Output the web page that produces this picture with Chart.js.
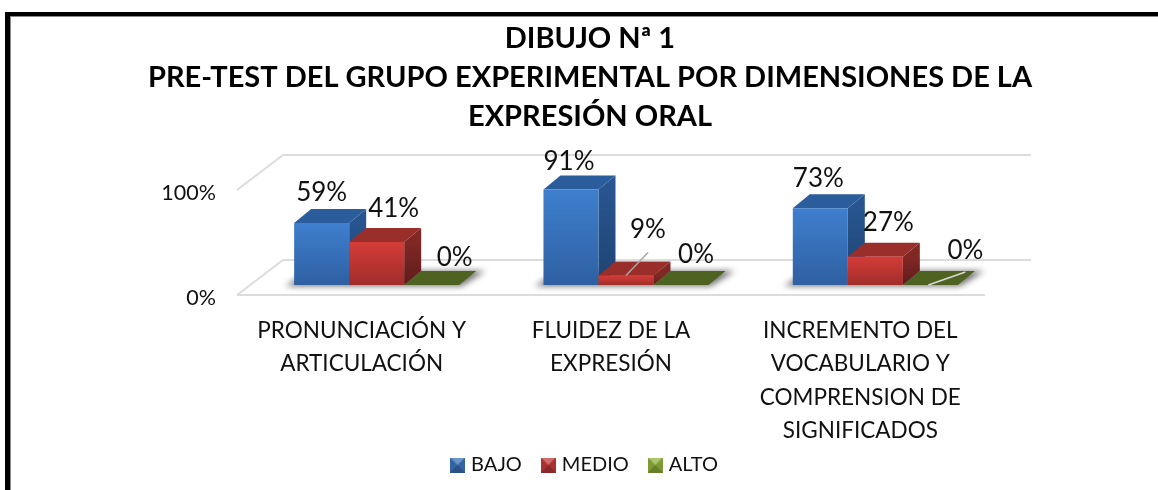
<!DOCTYPE html>
<html>
<head>
<meta charset="utf-8">
<title>Dibujo 1</title>
<script src="https://cdn.jsdelivr.net/npm/chart.js@4/dist/chart.umd.min.js"></script>
<style>
    html, body { margin: 0; padding: 0; background: #fff; overflow: hidden; }
    #frame {
        position: absolute; left: 5px; top: 12px; right: 0; bottom: 0;
        border-top: 4px solid #000; border-left: 5px solid #000;
        box-shadow: inset 1px 1px 0 #888;
    }
    #chart { position: absolute; left: 0; top: 0; }
</style>
</head>
<body>
<div id="frame"></div>
<canvas id="chart" width="1158" height="490"></canvas>
<script>
// Data
const titleLines = ['DIBUJO Nª 1', 'PRE-TEST DEL GRUPO EXPERIMENTAL POR DIMENSIONES DE LA', 'EXPRESIÓN ORAL'];
const categories = [
    ['PRONUNCIACIÓN Y', 'ARTICULACIÓN'],
    ['FLUIDEZ DE LA', 'EXPRESIÓN'],
    ['INCREMENTO DEL', 'VOCABULARIO Y', 'COMPRENSION DE', 'SIGNIFICADOS']
];
const seriesNames = ['BAJO', 'MEDIO', 'ALTO'];
const bajo = [59, 91, 73];
const medio = [41, 9, 27];
const alto = [0, 0, 0];
const yTicks = [0, 100];

// Colours per series
const palette = [
    { frontTop: '#3f7fce', frontBottom: '#2e60a2', top: '#2b5c9b', sideTop: '#28558f', sideBottom: '#1f4372', key: '#3a73b8' },
    { frontTop: '#d43c38', frontBottom: '#a12d2b', top: '#9a2e2b', sideTop: '#812825', sideBottom: '#5f1c1b', key: '#c0393a' },
    { frontTop: '#4e6321', frontBottom: '#4e6321', top: '#4e6321', sideTop: '#4e6321', sideBottom: '#4e6321', key: '#8fb13c' }
];

// 3D look
const FONT = 'Lato, "Open Sans", sans-serif';
const floorShift = { x: 15, y: -10 };   // bars stand inside the floor, not on its front edge
const barDepth = { x: 17, y: -14 };
const wallDepth = { x: 46, y: -35 };

// Hand placed data labels, relative to the top centre of the bar: [series][category]
const labelOffsets = [
    [[0, -30], [-2, -28], [-2, -30]],
    [[17, -33], [22, -46], [13, -34]],
    [[23, -27], [15, -30], [35, -34]]
];
// Leader lines, [series, category, from, to], relative to the top centre of the bar
const leaders = [
    [1, 1, [0, 0], [22, -23]],
    [2, 2, [-2, 0], [35, -13]]
];

// Bevelled legend key
const makeKey = (color) => {
    const size = 15;
    const c = document.createElement('canvas');
    c.width = size;
    c.height = size;
    const k = c.getContext('2d');
    k.fillStyle = color;
    k.fillRect(0, 0, size, size);
    k.fillStyle = 'rgba(255,255,255,0.25)';
    k.beginPath(); k.moveTo(0, 0); k.lineTo(size, 0); k.lineTo(size / 2, size / 2); k.fill();
    k.fillStyle = 'rgba(0,0,0,0.28)';
    k.beginPath(); k.moveTo(0, size); k.lineTo(size, size); k.lineTo(size / 2, size / 2); k.fill();
    k.fillStyle = 'rgba(0,0,0,0.12)';
    k.beginPath(); k.moveTo(0, 0); k.lineTo(0, size); k.lineTo(size / 2, size / 2); k.fill();
    k.beginPath(); k.moveTo(size, 0); k.lineTo(size, size); k.lineTo(size / 2, size / 2); k.fill();
    return c;
};

const poly = (ctx, pts, fill) => {
    ctx.fillStyle = fill;
    ctx.beginPath();
    pts.forEach((p, i) => i ? ctx.lineTo(p[0], p[1]) : ctx.moveTo(p[0], p[1]));
    ctx.closePath();
    ctx.fill();
};

const line = (ctx, x1, y1, x2, y2) => {
    ctx.beginPath();
    ctx.moveTo(x1, y1);
    ctx.lineTo(x2, y2);
    ctx.stroke();
};

const drawFloor = (chart) => {
    const { ctx, chartArea: a, scales: { y } } = chart;
    const y0 = y.getPixelForValue(0);
    const y100 = y.getPixelForValue(100);
    ctx.save();
    ctx.strokeStyle = '#dcdcdc';
    ctx.lineWidth = 2;
    line(ctx, a.left, y0, a.right, y0);
    line(ctx, a.left, y0, a.left + wallDepth.x, y0 + wallDepth.y);
    line(ctx, a.left + wallDepth.x, y0 + wallDepth.y, a.right + wallDepth.x, y0 + wallDepth.y);
    line(ctx, a.left, y100, a.left + wallDepth.x, y100 + wallDepth.y);
    line(ctx, a.left + wallDepth.x, y100 + wallDepth.y, a.right + wallDepth.x, y100 + wallDepth.y);
    // soft shadow under each group of bars
    ctx.filter = 'blur(3px)';
    categories.forEach((_, i) => {
        const first = chart.getDatasetMeta(0).data[i];
        const last = chart.getDatasetMeta(2).data[i];
        const l = first.x - first.width / 2 + floorShift.x;
        const r = last.x + last.width / 2 + floorShift.x;
        const b = y0 + floorShift.y;
        poly(ctx, [[l - 9, b + 1], [r + 2, b + 1], [r + barDepth.x + 9, b + barDepth.y], [l + barDepth.x, b + barDepth.y]], 'rgba(60,60,60,0.75)');
    });
    ctx.restore();
};

const drawFaces = (chart, s) => {
    const { ctx } = chart;
    const c = palette[s];
    chart.getDatasetMeta(s).data.forEach(bar => {
        const l = bar.x - bar.width / 2;
        const r = bar.x + bar.width / 2;
        const t = bar.y;
        const b = bar.base;
        const dx = barDepth.x;
        const dy = barDepth.y;
        const side = ctx.createLinearGradient(0, t, 0, b);
        side.addColorStop(0, c.sideTop);
        side.addColorStop(1, c.sideBottom);
        poly(ctx, [[r, t], [r + dx, t + dy], [r + dx, b + dy], [r, b]], side);
        poly(ctx, [[l, t], [l + dx, t + dy], [r + dx, t + dy], [r, t]], c.top);
    });
};

const drawLabels = (chart) => {
    const { ctx } = chart;
    ctx.save();
    ctx.fillStyle = '#111';
    ctx.font = '26px ' + FONT;
    ctx.textAlign = 'center';
    ctx.textBaseline = 'middle';
    seriesNames.forEach((_, s) => {
        chart.getDatasetMeta(s).data.forEach((bar, i) => {
            const off = labelOffsets[s][i];
            const x = bar.x + floorShift.x + off[0];
            const y = bar.y + floorShift.y + off[1];
            ctx.fillText(chart.data.datasets[s].data[i] + '%', x, y);
        });
    });
    leaders.forEach(([s, i, from, to]) => {
        const bar = chart.getDatasetMeta(s).data[i];
        const x = bar.x + floorShift.x;
        const y = bar.y + floorShift.y;
        ctx.strokeStyle = s === 2 ? '#d9d9d9' : '#a6a6a6';
        ctx.lineWidth = 1.5;
        line(ctx, x + from[0], y + from[1], x + to[0], y + to[1]);
    });
    ctx.restore();
};

const plugin3d = {
    id: 'plugin3d',
    afterLayout(chart) {
        // the legend overlaps the reserved box of the x labels in the original
        chart.legend.left -= 4;
        chart.legend.right -= 4;
        chart.legend.top -= 13;
        chart.legend.bottom -= 13;
    },
    beforeDatasetsDraw(chart) {
        const { ctx } = chart;
        drawFloor(chart);
        // left series has to be painted first, so the next bar covers its side
        ctx.save();
        ctx.translate(floorShift.x, floorShift.y);
        seriesNames.forEach((_, s) => {
            drawFaces(chart, s);
            chart.getDatasetMeta(s).controller.draw();
        });
        ctx.restore();
        drawLabels(chart);
        return false;
    }
};

const frontFill = (s) => (context) => {
    const { chart, raw } = context;
    const y = chart.scales.y;
    if (!y || raw === undefined) return palette[s].frontTop;
    const g = chart.ctx.createLinearGradient(0, y.getPixelForValue(raw), 0, y.getPixelForValue(0));
    g.addColorStop(0, palette[s].frontTop);
    g.addColorStop(1, palette[s].frontBottom);
    return g;
};

const seriesValues = [bajo, medio, alto];

new Chart(document.getElementById('chart'), {
    type: 'bar',
    data: {
        labels: categories,
        datasets: seriesNames.map((name, s) => ({
            label: name,
            data: seriesValues[s],
            backgroundColor: frontFill(s),
            borderWidth: 0,
            categoryPercentage: 0.662,
            barPercentage: 1
        }))
    },
    plugins: [plugin3d],
    options: {
        responsive: false,
        animation: false,
        layout: { padding: { left: 22, right: 0, top: 19, bottom: -8 } },
        plugins: {
            title: {
                display: true,
                text: titleLines,
                color: '#000',
                font: { family: FONT, size: 29, weight: 'bold', lineHeight: 1.345 },
                padding: { top: 0, bottom: 54 }
            },
            legend: {
                position: 'bottom',
                labels: {
                    color: '#111',
                    font: { family: FONT, size: 20 },
                    usePointStyle: true,
                    pointStyleWidth: 7,
                    padding: 23,
                    boxHeight: 15,
                    generateLabels: () => seriesNames.map((name, s) => ({
                        text: name,
                        pointStyle: makeKey(palette[s].key),
                        fontColor: '#111',
                        datasetIndex: s,
                        lineWidth: 0
                    }))
                }
            },
            tooltip: { enabled: false }
        },
        scales: {
            x: {
                grid: { display: false },
                border: { display: false },
                ticks: {
                    color: '#111',
                    font: { family: FONT, size: 22.5, lineHeight: 1.48 },
                    padding: 11,
                    autoSkip: false,
                    maxRotation: 0
                },
                afterFit: scale => { scale.height = 150; }
            },
            y: {
                min: 0,
                max: 100,
                afterBuildTicks: scale => { scale.ticks = yTicks.map(value => ({ value })); },
                grid: { display: false, drawTicks: false },
                border: { display: false },
                ticks: {
                    color: '#111',
                    font: { family: FONT, size: 21.5 },
                    padding: 21,
                    labelOffset: 3,
                    callback: value => value + '%'
                },
                afterFit: scale => { scale.width = 215; }
            },
            // keeps the empty strip right of the plot
            rightGap: {
                position: 'right',
                grid: { display: false, drawTicks: false },
                border: { display: false },
                ticks: { display: false },
                afterFit: scale => { scale.width = 173; }
            }
        }
    }
});
</script>
</body>
</html>
